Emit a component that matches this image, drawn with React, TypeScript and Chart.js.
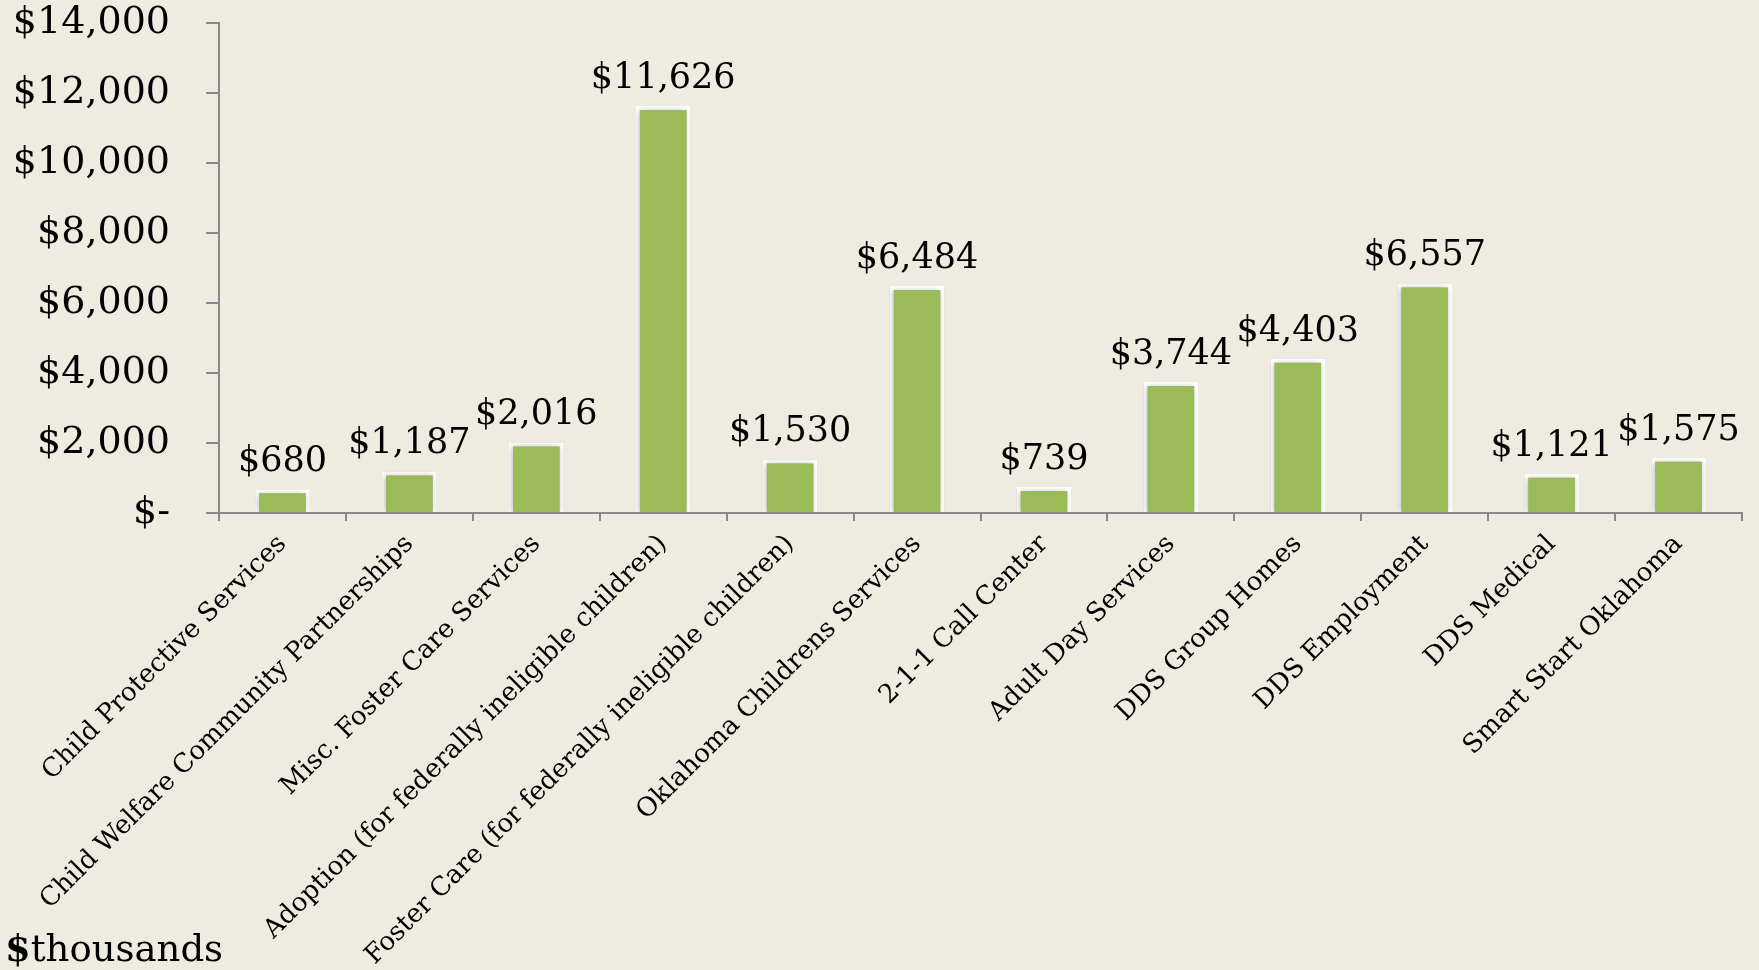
import React, { useEffect, useRef } from 'react';
import { Chart, registerables } from 'chart.js';

Chart.register(...registerables);

const categories: string[] = [
  'Child Protective Services',
  'Child Welfare Community Partnerships',
  'Misc. Foster Care Services',
  'Adoption (for federally ineligible children)',
  'Foster Care (for federally ineligible children)',
  'Oklahoma Childrens Services',
  '2-1-1 Call Center',
  'Adult Day Services',
  'DDS Group Homes',
  'DDS Employment',
  'DDS Medical',
  'Smart Start Oklahoma',
];

const values: number[] = [680, 1187, 2016, 11626, 1530, 6484, 739, 3744, 4403, 6557, 1121, 1575];

const yMin = 0;
const yMax = 14000;
const yStep = 2000;

const unitPrefix = '$';
const unitWord = 'thousands';

const FONT = '"DejaVu Serif", "Liberation Serif", serif';
const BG = '#EEECE1';
const AXIS = '#898989';

const W = 1759;
const H = 970;
const SHIFT = 36; // canvas drawn taller and moved up, so the plot top lands near the page top
const CH = H + SHIFT;

const fmt = (v: number) => (v === 0 ? '$-' : '$' + v.toLocaleString('en-US'));

export default function App() {
  const ref = useRef<HTMLCanvasElement | null>(null);

  useEffect(() => {
    document.body.style.margin = '0';
    document.body.style.background = BG;
    const canvas = ref.current;
    if (!canvas) return;

    const bgPlugin = {
      id: 'bg',
      beforeDraw(chart: any) {
        const { ctx, width, height } = chart;
        ctx.save();
        ctx.fillStyle = BG;
        ctx.fillRect(0, 0, width, height);
        ctx.restore();
      },
    };

    const shadowPlugin = {
      id: 'shadow',
      beforeDatasetsDraw(chart: any) {
        const ctx = chart.ctx;
        ctx.save();
        ctx.shadowColor = 'rgba(0,0,0,0.28)';
        ctx.shadowBlur = 6;
        ctx.shadowOffsetX = -1;
        ctx.shadowOffsetY = 1;
      },
      afterDatasetsDraw(chart: any) {
        chart.ctx.restore();
      },
    };

    const labelPlugin = {
      id: 'valueLabels',
      afterDraw(chart: any) {
        const ctx = chart.ctx;
        const meta = chart.getDatasetMeta(0);
        ctx.save();
        ctx.fillStyle = '#000';
        ctx.font = `35px ${FONT}`;
        ctx.textAlign = 'center';
        ctx.textBaseline = 'alphabetic';
        meta.data.forEach((bar: any, i: number) => {
          ctx.fillText(fmt(values[i]), bar.x, bar.y - 18);
        });
        // unit note
        ctx.textAlign = 'left';
        ctx.font = `bold 37px ${FONT}`;
        const x0 = 5;
        const yb = 961 + SHIFT;
        ctx.fillText(unitPrefix, x0, yb);
        const w = ctx.measureText(unitPrefix).width;
        ctx.font = `37px ${FONT}`;
        ctx.fillText(unitWord, x0 + w, yb);
        ctx.restore();
      },
    };

    const chart = new Chart(canvas, {
      type: 'bar',
      data: {
        labels: categories,
        datasets: [
          {
            data: values,
            backgroundColor: '#9BBB59',
            borderColor: '#FFFFFF',
            borderWidth: 4,
            borderSkipped: 'bottom',
            categoryPercentage: 1,
            barPercentage: 0.43,
          },
        ],
      },
      options: {
        responsive: false,
        animation: false,
        devicePixelRatio: 1,
        layout: { padding: { left: 0, right: 17, top: 0, bottom: 0 } },
        plugins: {
          legend: { display: false },
          tooltip: { enabled: false },
        },
        scales: {
          x: {
            grid: {
              display: true,
              drawOnChartArea: false,
              drawTicks: true,
              tickLength: 8,
              color: AXIS,
              lineWidth: 2,
              offset: true,
            },
            border: { display: true, color: AXIS, width: 2 },
            ticks: {
              autoSkip: false,
              minRotation: 45,
              maxRotation: 45,
              padding: 8,
              color: '#000',
              font: { family: FONT, size: 26 },
            },
            afterFit(scale: any) {
              scale.height = 970 - 513;
            },
          },
          y: {
            min: yMin,
            max: yMax,
            grid: {
              display: true,
              drawOnChartArea: false,
              drawTicks: true,
              tickLength: 13,
              color: AXIS,
              lineWidth: 2,
            },
            border: { display: true, color: AXIS, width: 2 },
            ticks: {
              stepSize: yStep,
              padding: 36,
              color: '#000',
              font: { family: FONT, size: 38 },
              callback: (v: any) => fmt(Number(v)),
            },
            afterFit(scale: any) {
              scale.width = 219;
            },
          },
        },
      },
      plugins: [bgPlugin, shadowPlugin, labelPlugin],
    });

    return () => chart.destroy();
  }, []);

  return (
    <div
      style={{
        position: 'absolute',
        left: 0,
        top: 0,
        width: W,
        height: H,
        overflow: 'hidden',
        background: BG,
      }}
    >
      <canvas
        ref={ref}
        width={W}
        height={CH}
        style={{ position: 'absolute', left: 0, top: -SHIFT, width: W, height: CH, display: 'block' }}
      />
    </div>
  );
}
